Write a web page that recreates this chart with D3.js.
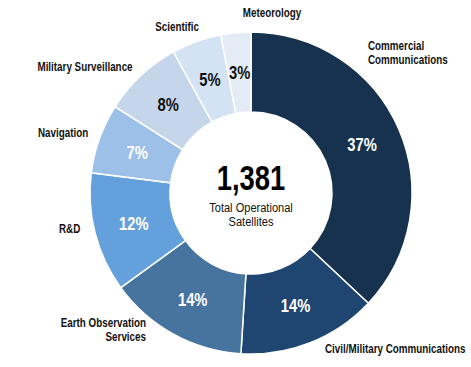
<!DOCTYPE html>
<html>
<head>
<meta charset="utf-8">
<script src="https://cdn.jsdelivr.net/npm/d3@7"></script>
<style>
  html, body { margin: 0; padding: 0; background: #ffffff; }
  svg { display: block; }
  text { font-family: "Liberation Sans", Arial, sans-serif; }
</style>
</head>
<body>
<svg id="chart" width="471" height="367"></svg>
<script>
// ---- data ----
const categories = [
  "Commercial Communications",
  "Civil/Military Communications",
  "Earth Observation Services",
  "R&D",
  "Navigation",
  "Military Surveillance",
  "Scientific",
  "Meteorology"
];
const shares = [37, 14, 14, 12, 7, 8, 5, 3];
const labelLines = [
  ["Commercial", "Communications"],
  ["Civil/Military Communications"],
  ["Earth Observation", "Services"],
  ["R&D"],
  ["Navigation"],
  ["Military Surveillance"],
  ["Scientific"],
  ["Meteorology"]
];
const totalSatellites = 1381;
const centerCaption = ["Total Operational", "Satellites"];

// ---- style / layout ----
const colors = ["#17324f", "#1f4670", "#47739f", "#64a0db", "#9dc0e9", "#c5d6ea", "#d4e3f4", "#e3ebf5"];
const pctColors = ["#fff", "#fff", "#fff", "#fff", "#fff", "#111", "#111", "#111"];
const narrow = 0.82; // horizontal squeeze to imitate a narrow typeface
// label anchor offsets relative to chart centre: [dx, dy(first baseline), anchor]
const labelLayout = [
  [117, -143, "start"],
  [74, 160, "start"],
  [-105, 134, "end"],
  [-192, 40, "start"],
  [-213, -56, "start"],
  [-166, -122, "middle"],
  [-74, -162, "middle"],
  [21, -176, "middle"]
];

const svg = d3.select("#chart");
const cx = 251, cy = 193, rOuter = 161, rInner = 81;
const g = svg.append("g").attr("transform", `translate(${cx},${cy})`);

const pie = d3.pie().sort(null).value(d => d)(shares);
const arc = d3.arc().innerRadius(rInner).outerRadius(rOuter);

g.selectAll("path.slice").data(pie).join("path")
  .attr("class", "slice")
  .attr("d", arc)
  .attr("fill", (d, i) => colors[i])
  .attr("stroke", "#ffffff")
  .attr("stroke-width", 1.5);

g.selectAll("text.pct").data(pie).join("text")
  .attr("class", "pct")
  .attr("transform", d => `translate(${arc.centroid(d)}) scale(${narrow},1)`)
  .attr("text-anchor", "middle")
  .attr("dy", "0.36em")
  .attr("font-size", 18)
  .attr("font-weight", "bold")
  .attr("fill", (d, i) => pctColors[i])
  .text(d => d.data + "%");

// outside labels
categories.forEach((c, i) => {
  const [dx, dy, anchor] = labelLayout[i];
  const t = g.append("text")
    .attr("transform", `translate(${dx},${dy}) scale(${narrow},1)`)
    .attr("text-anchor", anchor)
    .attr("font-size", 12)
    .attr("font-weight", "bold")
    .attr("fill", "#111");
  labelLines[i].forEach((line, j) => {
    t.append("tspan").attr("x", 0).attr("dy", j === 0 ? 0 : 14.5).text(line);
  });
});

// centre text
g.append("text")
  .attr("transform", `translate(0,-3) scale(0.76,1)`)
  .attr("text-anchor", "middle")
  .attr("font-size", 36)
  .attr("font-weight", "bold")
  .attr("fill", "#000")
  .text(d3.format(",")(totalSatellites));
centerCaption.forEach((line, j) => {
  g.append("text")
    .attr("transform", `translate(0,${19 + j * 14}) scale(${narrow},1)`)
    .attr("text-anchor", "middle")
    .attr("font-size", 13.5)
    .attr("fill", "#111")
    .text(line);
});
</script>
</body>
</html>
